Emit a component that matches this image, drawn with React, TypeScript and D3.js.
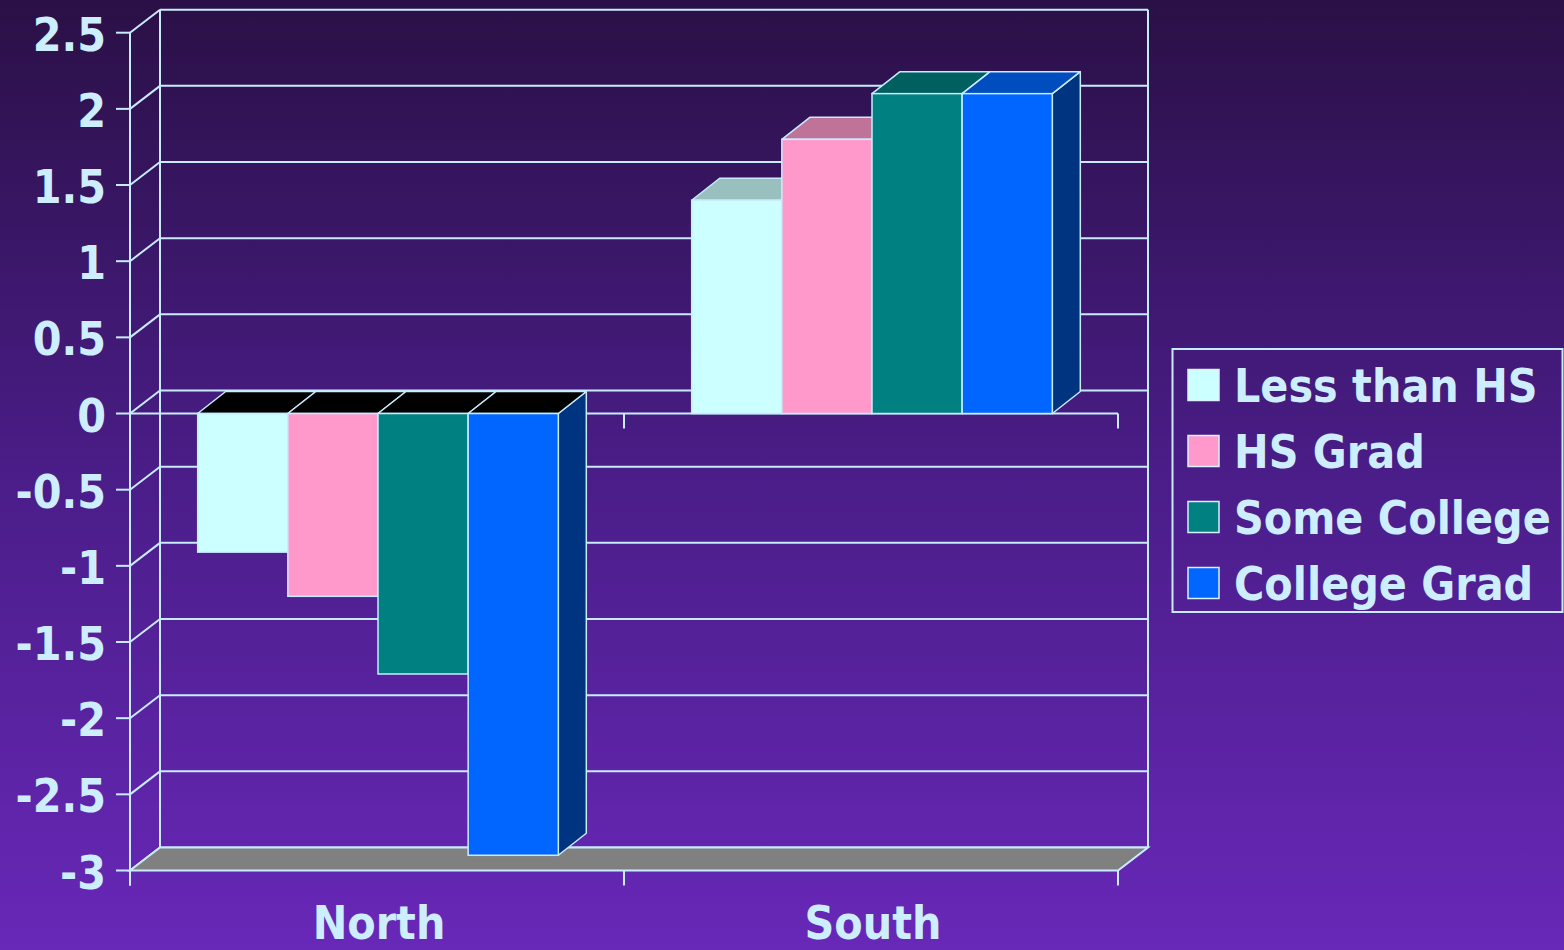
import React from "react";
import * as d3 from "d3";

const categories = ["North", "South"];
const seriesNames = ["Less than HS", "HS Grad", "Some College", "College Grad"];
const northValues = [-0.91, -1.2, -1.71, -2.9];
const southValues = [1.4, 1.8, 2.1, 2.1];
const valuesByCategory = [northValues, southValues];
const tickValues = [2.5, 2, 1.5, 1, 0.5, 0, -0.5, -1, -1.5, -2, -2.5, -3];
const seriesColors = ["#ccffff", "#ff99cc", "#008080", "#0066ff"];

const W = 1564;
const H = 950;
const LINE = "#c8ecff";
const TEXT = "#cdeeff";
const FONT = "'DejaVu Sans Condensed', 'DejaVu Sans', sans-serif";

function shade(c: string, k: number) {
  const col = d3.rgb(c);
  return d3.rgb(col.r * k, col.g * k, col.b * k).formatHex();
}

export default function App() {
  const x0 = 130, x1 = 1118;
  const y = d3.scaleLinear().domain([-3, 2.5]).range([870.5, 32.7]);
  const xc = d3.scaleBand<string>().domain(categories).range([x0, x1]).padding(0);
  const bw = xc.bandwidth();
  const groupW = bw * 0.73;
  const xs = d3.scaleBand<string>().domain(seriesNames).range([0, groupW]).padding(0);
  const wdx = 30, wdy = -23; // wall depth
  const bdx = 28, bdy = -22; // bar depth

  const yMin = y(-3);
  const yMax = y(2.5);
  const y0 = y(0);

  const pts = (p: number[][]) => p.map((q) => q.join(",")).join(" ");

  return (
    <svg width={W} height={H} style={{ position: "absolute", left: 0, top: 0 }}>
      <defs>
        <linearGradient id="bg" x1="0" y1="0" x2="0" y2="1">
          <stop offset="0%" stopColor="#2a1046" />
          <stop offset="50%" stopColor="#4a1d88" />
          <stop offset="100%" stopColor="#6828b8" />
        </linearGradient>
      </defs>
      <rect x={0} y={0} width={W} height={H} fill="url(#bg)" />

      {/* back wall gridlines and diagonals */}
      {tickValues.map((t) => (
        <g key={"g" + t}>
          <line x1={x0 + wdx} x2={x1 + wdx} y1={y(t) + wdy} y2={y(t) + wdy} stroke={LINE} strokeWidth={2} />
          <line x1={x0} x2={x0 + wdx} y1={y(t)} y2={y(t) + wdy} stroke={LINE} strokeWidth={2} />
          <line x1={x0 - 14} x2={x0} y1={y(t)} y2={y(t)} stroke={LINE} strokeWidth={2} />
          <text
            x={106}
            y={y(t) + 18}
            textAnchor="end"
            fill={TEXT}
            fontFamily={FONT}
            fontWeight="bold"
            fontStretch="condensed"
            fontSize={46}
          >
            {String(t)}
          </text>
        </g>
      ))}
      <line x1={x0 + wdx} x2={x0 + wdx} y1={yMax + wdy} y2={yMin + wdy} stroke={LINE} strokeWidth={2} />
      <line x1={x1 + wdx} x2={x1 + wdx} y1={yMax + wdy} y2={yMin + wdy} stroke={LINE} strokeWidth={2} />

      {/* floor */}
      <polygon
        points={pts([
          [x0, yMin],
          [x0 + wdx, yMin + wdy],
          [x1 + wdx, yMin + wdy],
          [x1, yMin],
        ])}
        fill="#808080"
        stroke={LINE}
        strokeWidth={2}
      />

      {/* front value axis */}
      <line x1={x0} x2={x0} y1={yMax} y2={yMin + 15} stroke={LINE} strokeWidth={2} />
      {/* category axis at bottom */}
      {[x0, ...categories.map((c) => (xc(c) as number) + bw)].map((v, i) => (
        <line key={"bt" + i} x1={v} x2={v} y1={yMin} y2={yMin + 15} stroke={LINE} strokeWidth={2} />
      ))}
      {/* zero line with ticks */}
      <line x1={x0} x2={x1} y1={y0} y2={y0} stroke={LINE} strokeWidth={2} />
      {categories.map((c) => {
        const v = (xc(c) as number) + bw;
        return <line key={"zt" + c} x1={v} x2={v} y1={y0} y2={y0 + 15} stroke={LINE} strokeWidth={2} />;
      })}

      {/* bars */}
      {categories.map((c, ci) => {
        const gx = (xc(c) as number) + (bw - groupW) / 2 + 1;
        return (
          <g key={c}>
            {seriesNames.map((s, si) => {
              const v = valuesByCategory[ci][si];
              const bx = gx + (xs(s) as number);
              const w = xs.bandwidth();
              const yt = y(Math.max(0, v));
              const yb = y(Math.min(0, v));
              const col = seriesColors[si];
              const topFill = v < 0 ? "#000000" : shade(col, 0.75);
              return (
                <g key={s}>
                  <polygon
                    points={pts([
                      [bx + w, yt],
                      [bx + w + bdx, yt + bdy],
                      [bx + w + bdx, yb + bdy],
                      [bx + w, yb],
                    ])}
                    fill={shade(col, 0.5)}
                    stroke={LINE}
                    strokeWidth={1.5}
                    strokeLinejoin="round"
                  />
                  <polygon
                    points={pts([
                      [bx, yt],
                      [bx + bdx, yt + bdy],
                      [bx + w + bdx, yt + bdy],
                      [bx + w, yt],
                    ])}
                    fill={topFill}
                    stroke={LINE}
                    strokeWidth={1.5}
                    strokeLinejoin="round"
                  />
                  <rect x={bx} y={yt} width={w} height={yb - yt} fill={col} stroke={LINE} strokeWidth={1.5} />
                </g>
              );
            })}
          </g>
        );
      })}

      {/* category labels */}
      {categories.map((c) => (
        <text
          key={"l" + c}
          x={(xc(c) as number) + bw / 2 + 2}
          y={939}
          textAnchor="middle"
          fill={TEXT}
          fontFamily={FONT}
          fontWeight="bold"
          fontStretch="condensed"
          fontSize={46}
        >
          {c}
        </text>
      ))}

      {/* legend */}
      <rect x={1172.5} y={349} width={390} height={263} fill="none" stroke={LINE} strokeWidth={2} />
      {seriesNames.map((s, i) => (
        <g key={"lg" + s} transform={`translate(1188, ${369.5 + i * 66})`}>
          <rect x={0} y={0} width={31} height={31} fill={seriesColors[i]} stroke="#d8f0ff" strokeWidth={1.5} />
          <text
            x={46}
            y={32.5}
            fill={TEXT}
            fontFamily={FONT}
            fontWeight="bold"
            fontStretch="condensed"
            fontSize={46}
          >
            {s}
          </text>
        </g>
      ))}
    </svg>
  );
}
